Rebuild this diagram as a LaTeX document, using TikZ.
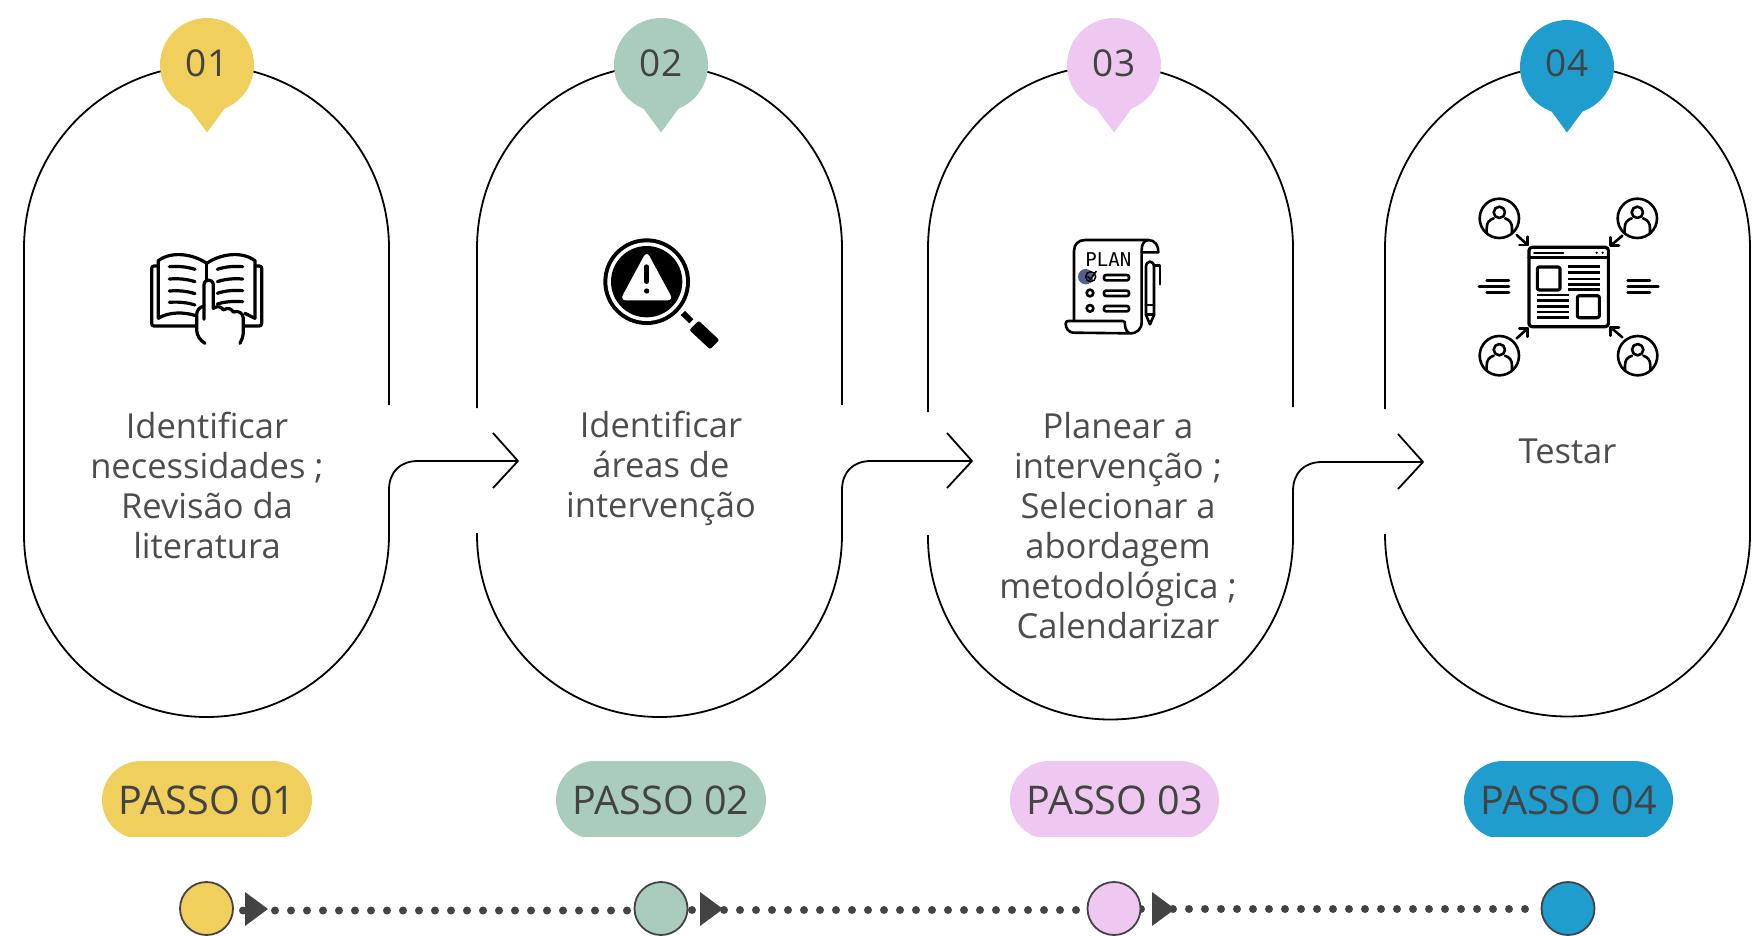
\documentclass[tikz,border=0pt]{standalone}
\usepackage{fontspec}
\setmainfont{Open Sans}
\newfontfamily\planfont{DejaVu Sans Mono}
\usetikzlibrary{arrows.meta}
\definecolor{cyellow}{HTML}{F0CF5C}
\definecolor{cgreen}{HTML}{A9CCBC}
\definecolor{cpink}{HTML}{EEC8F0}
\definecolor{cblue}{HTML}{1E9DCE}
\definecolor{ink}{HTML}{434343}
\definecolor{bodyink}{HTML}{4D4D4D}
\definecolor{planblue}{HTML}{55608F}
\tikzset{
  outline/.style={draw=black,line width=1.8pt,line join=round},
  bodytext/.style={text=bodyink,align=center,inner sep=0pt,font=\fontsize{34.5}{40}\selectfont},
  numtext/.style={text=ink,inner sep=0pt,font=\fontsize{37}{40}\selectfont},
  pilltext/.style={text=ink,inner sep=0pt,font=\fontsize{39.5}{42}\selectfont},
  tdot/.style={circle,draw=ink,line width=1.8pt,minimum size=53pt,inner sep=0pt},
  dotline/.style={draw=ink,line width=8pt,line cap=round,dash pattern=on 0pt off 16pt},
  ico/.style={draw=black,line width=3.2pt,line cap=round,line join=round},
  icothin/.style={draw=black,line width=2.6pt,line cap=round,line join=round},
  tip/.style={fill=ink,draw=none},
}
\begin{document}
\begin{tikzpicture}[x=1pt,y=-1pt]
\useasboundingbox (0,0) rectangle (1763,935);
% shape 1
\draw[outline] (389,405) -- (389,248) arc[start angle=0,end angle=180,radius=182.5pt] -- (24,534.5)
  arc[start angle=180,end angle=360,radius=182.5pt] -- (389,490) .. controls (389,472) and (400,461) .. (418,461) -- (518,461);
\draw[outline] (493,433) -- (518,461) -- (493,488);
% shape 2
\draw[outline] (842,405) -- (842,248) arc[start angle=0,end angle=180,radius=182.5pt] -- (477,408);
\draw[outline] (477,533) -- (477,534.5) arc[start angle=180,end angle=360,radius=182.5pt] -- (842,490) .. controls (842,472) and (853,461) .. (871,461) -- (972,461);
\draw[outline] (947,433) -- (972,461) -- (947,488);
% shape 3
\draw[outline] (1293,407) -- (1293,248) arc[start angle=0,end angle=180,radius=182.5pt] -- (928,412);
\draw[outline] (928,535) -- (928,537) arc[start angle=180,end angle=360,radius=182.5pt] -- (1293,491) .. controls (1293,473) and (1304,462) .. (1322,462) -- (1423,462);
\draw[outline] (1398,434) -- (1423,462) -- (1398,489);
% shape 4
\draw[outline] (1385,409) -- (1385,248) arc[start angle=180,end angle=0,radius=182.5pt] -- (1750,534)
  arc[start angle=0,end angle=-180,radius=182.5pt];
% pins
\foreach \cx/\cy/\col/\num in {207/65/cyellow/01,661/65/cgreen/02,1114/65/cpink/03,1567/67/cblue/04}{
  \fill[\col] (\cx,\cy) circle[radius=47];
  \fill[\col] (\cx-18,108) -- (\cx,132.5) -- (\cx+18,108) -- cycle;
  \node[numtext] (pin\num) at (\cx,63) {\num};
}
% pills
\foreach \l/\r/\col/\num in {102/312/cyellow/01,556/766/cgreen/02,1010/1219/cpink/03,1464/1673/cblue/04}{
  \begin{scope}
    \clip (\l-2,755) rectangle (\r+2,836.5);
    \fill[\col,rounded corners=39pt] (\l,761) rectangle (\r,839);
  \end{scope}
  \node[pilltext] (pill\num) at ({(\l+\r)/2},800) {PASSO \num};
}
% body text
\node[bodytext] (t1) at (207,485) {Identificar\\necessidades ;\\Revisão da\\literatura};
\node[bodytext] (t2) at (661,468.5) {Identificar\\áreas de\\intervenção};
\node[bodytext] (t3) at (1118,526) {Planear a\\intervenção ;\\Selecionar a\\abordagem\\metodológica ;\\Calendarizar};
\node[bodytext] (t4) at (1567.5,451) {Testar};
% timeline
\coordinate (a1) at (243,910.5);
\coordinate (b1) at (633,910.5);
\coordinate (a2) at (692,910);
\coordinate (b2) at (1080,910);
\coordinate (a3) at (1141,909);
\coordinate (b3) at (1530,909);
\draw[dotline] (a1) -- (b1);
\draw[dotline] (a2) -- (b2);
\draw[dotline] (a3) -- (b3);
\node[tdot,fill=cyellow] (d1) at (206.5,908.5) {};
\node[tdot,fill=cgreen] (d2) at (661,908.5) {};
\node[tdot,fill=cpink] (d3) at (1114,908.5) {};
\node[tdot,fill=cblue] (d4) at (1568,908.5) {};
\fill[tip] (245,892) -- (268,909) -- (245,926) -- cycle;
\fill[tip] (700,892) -- (723,909) -- (700,926) -- cycle;
\fill[tip] (1152,892) -- (1175,909) -- (1152,926) -- cycle;
% book icon
\begin{scope}[shift={(130,230)},x=1/3*1pt,y=-1/3*1pt]
  \draw[ico] (82,108) -- (72,108) .. controls (67,108) and (65,111) .. (65,115) -- (65,280) .. controls (65,285) and (67,288) .. (72,288) -- (200,288);
  \draw[ico] (378,108) -- (388,108) .. controls (393,108) and (395,111) .. (395,115) -- (395,280) .. controls (395,285) and (393,288) .. (388,288) -- (342,288);
  \draw[ico] (85,265) -- (85,92) .. controls (125,62) and (190,72) .. (230,100) .. controls (270,72) and (335,62) .. (375,92) -- (375,265);
  \draw[ico] (85,265) .. controls (115,245) and (165,245) .. (200,258);
  \draw[ico] (345,250) -- (375,265);
  \foreach \y in {110,147,183,217}{
    \draw[ico] (118,\y) .. controls (145,\y-2) and (170,\y) .. (195,\y+8);
  }
  \foreach \y in {118,155}{
    \draw[ico] (262,\y) .. controls (285,\y-8) and (310,\y-10) .. (338,\y-8);
  }
  \draw[ico] (262,190) .. controls (285,182) and (310,180) .. (338,182);
  \draw[ico] (262,222) .. controls (285,215) and (310,213) .. (338,215);
  \draw[ico] (230,100) -- (230,150);
  \fill[white] (224,160) -- (250,160) -- (250,230) -- (340,255) -- (340,345) -- (205,345) -- (200,240) -- (224,225) -- cycle;
  \draw[ico] (222,268) -- (222,165) .. controls (222,145) and (250,145) .. (250,165) -- (250,235) .. controls (265,225) and (275,232) .. (280,240) .. controls (295,230) and (305,238) .. (310,246) .. controls (325,240) and (340,250) .. (340,265) -- (340,305) .. controls (340,320) and (335,330) .. (330,340);
  \draw[ico] (222,228) .. controls (208,232) and (200,240) .. (200,255) -- (200,300) .. controls (200,318) and (212,332) .. (225,340);
\end{scope}
% magnifier icon
\begin{scope}[shift={(590,225)},x=1/3*1pt,y=-1/3*1pt]
  \fill[black] (170,170) circle[radius=130];
  \fill[white] (170,170) circle[radius=118];
  \fill[black] (170,170) circle[radius=107];
  \fill[white,rounded corners=6pt] (170,78) -- (250,226) -- (90,226) -- cycle;
  \draw[black,line width=4.6pt,line cap=round] (170,125) -- (170,170);
  \fill[black] (170,198) circle[radius=8];
  \fill[black] (285,258) -- (310,283) -- (298,295) -- (272,270) -- cycle;
  \fill[black,rounded corners=2pt] (326,287) -- (388,345) -- (360,373) -- (298,315) -- cycle;
\end{scope}
% plan icon
\begin{scope}[shift={(1050,225)},x=1/3*1pt,y=-1/3*1pt]
  \draw[icothin] (72,285) -- (72,78) .. controls (72,58) and (85,45) .. (105,45) -- (295,45) .. controls (315,45) and (326,62) .. (325,82) -- (276,82);
  \draw[icothin] (295,45) .. controls (280,47) and (275,60) .. (275,75) -- (275,290) .. controls (275,312) and (262,325) .. (240,325) -- (68,323) .. controls (55,320) and (47,310) .. (47,296) .. controls (47,290) and (50,288) .. (55,288) -- (218,288) .. controls (225,288) and (225,292) .. (225,300) .. controls (225,312) and (232,322) .. (240,325);
  \node[inner sep=0pt,text=black,font=\planfont\fontsize{19}{20}\selectfont] (plan) at (175,103) {PLAN};
  \fill[planblue] (107,155) circle[radius=23];
  \draw[black,line width=1.5pt] (122,155) circle[radius=15];
  \draw[black,line width=1.6pt] (113,154) -- (121,163) -- (139,138);
  \draw[icothin] (120,204) circle[radius=10];
  \draw[icothin] (120,250) circle[radius=10];
  \foreach \y in {150,197,243}{
    \draw[icothin,rounded corners=2pt] (162,\y) rectangle (237,\y+16);
  }
  \draw[icothin] (288,240) -- (288,125) .. controls (288,105) and (312,105) .. (312,125) -- (312,240);
  \draw[icothin] (288,240) -- (312,240);
  \draw[icothin] (288,240) -- (288,270) -- (300,298) -- (312,270) -- (312,240);
  \draw[icothin] (288,268) -- (312,268);
  \draw[icothin] (312,122) -- (330,122) -- (330,178);
\end{scope}
% test icon
\begin{scope}[shift={(1460,185)},x=1/3*1pt,y=-1/3*1pt]
  \foreach \cx/\cy in {118/100,532/100,118/512,533/512}{
    \draw[icothin] (\cx,\cy) circle[radius=59];
    \draw[icothin] (\cx,\cy-18) circle[radius=17];
    \draw[icothin] (\cx-38,\cy+44) -- (\cx-38,\cy+30) .. controls (\cx-38,\cy+12) and (\cx-30,\cy+5) .. (\cx-17,\cy);
    \draw[icothin] (\cx+38,\cy+44) -- (\cx+38,\cy+30) .. controls (\cx+38,\cy+12) and (\cx+30,\cy+5) .. (\cx+17,\cy);
  }
  \draw[ico,rounded corners=3pt] (207,187) rectangle (445,425);
  \draw[ico] (207,217) -- (445,217);
  \draw[icothin,line width=1.8pt] (222,203) -- (310,203);
  \fill (410,203) circle[radius=4];
  \fill (428,203) circle[radius=4];
  \draw[ico,rounded corners=2pt] (232,246) rectangle (300,315);
  \draw[ico,rounded corners=2pt] (352,332) rectangle (418,398);
  \foreach \y in {245,262,282,298,313}{\draw[icothin,line cap=butt] (325,\y) -- (420,\y);}
  \foreach \y in {330,347,364,381,398}{\draw[icothin,line cap=butt] (230,\y) -- (328,\y);}
  \draw[icothin] (80,287) -- (147,287);
  \draw[icothin] (57,305) -- (147,305);
  \draw[icothin] (80,322) -- (147,322);
  \draw[icothin] (503,287) -- (570,287);
  \draw[icothin] (503,305) -- (595,305);
  \draw[icothin] (503,322) -- (570,322);
  \draw[icothin] (170,150) -- (203,180);
  \draw[icothin] (178,180) -- (203,180) -- (203,155);
  \draw[icothin] (487,152) -- (452,182);
  \draw[icothin] (477,182) -- (452,182) -- (452,157);
  \draw[icothin] (170,460) -- (203,430);
  \draw[icothin] (178,430) -- (203,430) -- (203,455);
  \draw[icothin] (487,457) -- (452,427);
  \draw[icothin] (477,427) -- (452,427) -- (452,452);
\end{scope}
\end{tikzpicture}
\end{document}
